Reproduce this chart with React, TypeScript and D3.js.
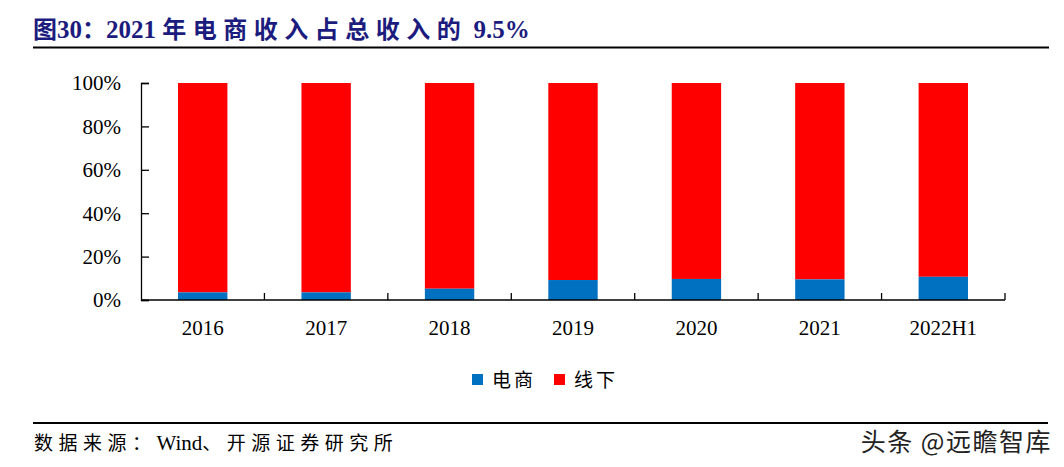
import { useEffect, useRef } from "react";
import * as d3 from "d3";

const categories = ["2016", "2017", "2018", "2019", "2020", "2021", "2022H1"];
const online = [3.5, 3.5, 5.2, 9.2, 9.7, 9.5, 10.7];
const offline = online.map((v) => 100 - v);
const yTicks = [0, 20, 40, 60, 80, 100];
const seriesNames = ["电商", "线下"];
const seriesColors = ["#0070C0", "#FF0000"];

const W = 1064;
const H = 467;

const App = () => {
  const ref = useRef<SVGSVGElement | null>(null);

  useEffect(() => {
    const svg = d3.select(ref.current);
    svg.selectAll("*").remove();

    const left = 141;
    const right = 1005;
    const top = 83;
    const bottom = 300;
    const serif = "'Liberation Serif', 'Times New Roman', serif";
    const cjk = "'Noto Sans CJK SC', sans-serif";

    // title
    const title = svg
      .append("text")
      .attr("x", 33)
      .attr("y", 38)
      .attr("fill", "#1c1c7e")
      .attr("font-weight", "bold")
      .attr("font-size", 24);
    title.append("tspan").attr("font-family", cjk).text("图");
    title.append("tspan").attr("font-family", serif).attr("font-size", 25).text("30");
    title.append("tspan").attr("font-family", cjk).text("：");
    title.append("tspan").attr("font-family", serif).attr("font-size", 25).text("2021 ");
    title.append("tspan").attr("font-family", cjk).attr("letter-spacing", 6.5).text("年电商收入占总收入的");
    title.append("tspan").attr("font-family", serif).attr("font-size", 25).text(" 9.5%");

    svg
      .append("line")
      .attr("x1", 33)
      .attr("x2", 1049)
      .attr("y1", 47.5)
      .attr("y2", 47.5)
      .attr("stroke", "#000")
      .attr("stroke-width", 2.2);

    const x = d3
      .scaleBand<string>()
      .domain(categories)
      .range([left, right])
      .paddingInner(0.6)
      .paddingOuter(0.3);

    const y = d3.scaleLinear().domain([0, 100]).range([bottom, top]);

    const stacked = categories.map((c, i) => ({ c, a: online[i], b: offline[i] }));

    svg
      .append("g")
      .selectAll("rect")
      .data(stacked)
      .join("rect")
      .attr("x", (d) => x(d.c)!)
      .attr("width", x.bandwidth())
      .attr("y", (d) => y(d.a + d.b))
      .attr("height", (d) => y(d.a) - y(d.a + d.b))
      .attr("fill", seriesColors[1]);

    svg
      .append("g")
      .selectAll("rect")
      .data(stacked)
      .join("rect")
      .attr("x", (d) => x(d.c)!)
      .attr("width", x.bandwidth())
      .attr("y", (d) => y(d.a))
      .attr("height", (d) => y(0) - y(d.a))
      .attr("fill", seriesColors[0]);

    // y axis
    const yAxis = svg
      .append("g")
      .attr("transform", `translate(${left},0)`)
      .call(
        d3
          .axisRight(y)
          .tickValues(yTicks)
          .tickSize(8)
          .tickFormat(() => "")
      );
    yAxis.select(".domain").attr("stroke", "#000").attr("stroke-width", 1.3);
    yAxis.selectAll("line").attr("stroke", "#000").attr("stroke-width", 1.3);

    svg
      .append("g")
      .selectAll("text")
      .data(yTicks)
      .join("text")
      .attr("x", 121)
      .attr("y", (d) => y(d))
      .attr("dy", "0.35em")
      .attr("text-anchor", "end")
      .attr("font-family", serif)
      .attr("font-size", 21)
      .attr("fill", "#000")
      .text((d) => `${d}%`);

    // x axis
    const band = (right - left) / categories.length;
    const boundaries = categories.map((_, i) => left + band * (i + 1));
    svg
      .append("line")
      .attr("x1", left)
      .attr("x2", right)
      .attr("y1", bottom)
      .attr("y2", bottom)
      .attr("stroke", "#000")
      .attr("stroke-width", 1.3);
    svg
      .append("g")
      .selectAll("line")
      .data(boundaries)
      .join("line")
      .attr("x1", (d) => d)
      .attr("x2", (d) => d)
      .attr("y1", bottom)
      .attr("y2", bottom - 7)
      .attr("stroke", "#000")
      .attr("stroke-width", 1.3);

    svg
      .append("g")
      .selectAll("text")
      .data(categories)
      .join("text")
      .attr("x", (d) => x(d)! + x.bandwidth() / 2)
      .attr("y", 335)
      .attr("text-anchor", "middle")
      .attr("font-family", serif)
      .attr("font-size", 21)
      .attr("fill", "#000")
      .text((d) => d);

    // legend
    const legendX = [472, 554];
    seriesNames.forEach((name, i) => {
      svg
        .append("rect")
        .attr("x", legendX[i])
        .attr("y", 374)
        .attr("width", 11)
        .attr("height", 11)
        .attr("fill", seriesColors[i]);
      svg
        .append("text")
        .attr("x", legendX[i] + 20)
        .attr("y", 380)
        .attr("dy", "0.36em")
        .attr("font-family", cjk)
        .attr("font-size", 19)
        .attr("letter-spacing", 3)
        .attr("fill", "#000")
        .text(name);
    });

    // footer
    svg
      .append("line")
      .attr("x1", 33)
      .attr("x2", 1048)
      .attr("y1", 423)
      .attr("y2", 423)
      .attr("stroke", "#000")
      .attr("stroke-width", 1.8);

    const src = svg
      .append("text")
      .attr("x", 34)
      .attr("y", 450)
      .attr("font-size", 19)
      .attr("fill", "#000");
    src.append("tspan").attr("font-family", cjk).attr("letter-spacing", 5.5).text("数据来源：");
    src.append("tspan").attr("font-family", serif).attr("font-size", 21).text("Wind");
    src.append("tspan").attr("font-family", cjk).attr("letter-spacing", 5.5).text("、开源证券研究所");

    svg
      .append("text")
      .attr("x", 1052)
      .attr("y", 451)
      .attr("text-anchor", "end")
      .attr("font-family", cjk)
      .attr("font-size", 25)
      .attr("letter-spacing", 1.5)
      .attr("fill", "#222")
      .text("头条 @远瞻智库");
  }, []);

  return (
    <div style={{ position: "absolute", left: 0, top: 0 }}>
      <svg ref={ref} width={W} height={H} style={{ display: "block", background: "#fff" }} />
    </div>
  );
};

export default App;
